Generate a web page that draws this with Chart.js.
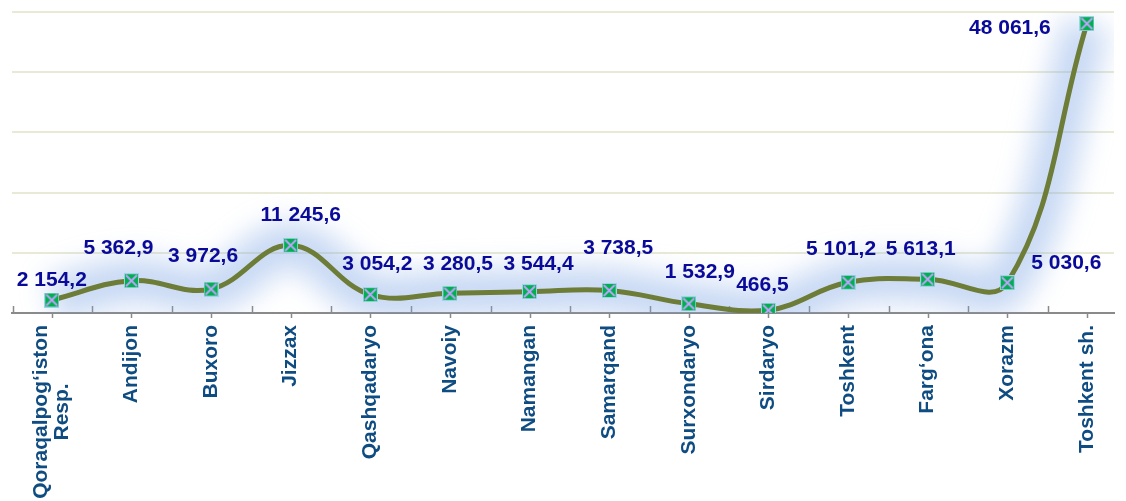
<!DOCTYPE html>
<html>
<head>
<meta charset="utf-8">
<title>Hududlar</title>
<script src="https://cdn.jsdelivr.net/npm/chart.js@4.4.1/dist/chart.umd.min.js"></script>
<style>
  html, body { margin: 0; padding: 0; background: #fff; overflow: hidden; }
  canvas { display: block; }
</style>
</head>
<body>
<canvas id="regionChart" width="1126" height="501"></canvas>
<script>
// regions and values
const regions = [
  ['Qoraqalpog‘iston', 'Resp.'], 'Andijon', 'Buxoro', 'Jizzax', 'Qashqadaryo', 'Navoiy',
  'Namangan', 'Samarqand', 'Surxondaryo', 'Sirdaryo', 'Toshkent', 'Farg‘ona', 'Xorazm', 'Toshkent sh.'
];
const values = [2154.2, 5362.9, 3972.6, 11245.6, 3054.2, 3280.5, 3544.4, 3738.5, 1532.9, 466.5, 5101.2, 5613.1, 5030.6, 48061.6];
const yMax = 50000;
const yStep = 10000;

// where each value label sits relative to its point [dx, dy]
const labelShift = [
  [0, -20], [-13, -33], [-8, -33], [10, -30], [7, -30], [8, -29], [9, -27],
  [9, -42], [11, -32], [-6, -25], [-7, -33], [-7, -30], [59, -20], [-77, 5]
];

const NAVY = '#0a0a9a';
const STEEL = '#0f4c81';
const FONT = '"Liberation Sans", Arial, sans-serif';

function fmtUz(n) {
  const [i, d] = n.toFixed(1).split('.');
  return i.replace(/\B(?=(\d{3})+(?!\d))/g, ' ') + ',' + d;
}

// green square with a lilac cross
function makeMarker() {
  const s = 15;
  const c = document.createElement('canvas');
  c.width = s; c.height = s;
  const g = c.getContext('2d');
  g.fillStyle = '#9fd4e8';
  g.fillRect(0, 0, s, s);
  g.fillStyle = '#00b050';
  g.fillRect(1, 1, s - 2, s - 2);
  g.strokeStyle = '#c3a2ff';
  g.lineWidth = 1.8;
  g.beginPath();
  g.moveTo(2, 2); g.lineTo(s - 2, s - 2);
  g.moveTo(s - 2, 2); g.lineTo(2, s - 2);
  g.stroke();
  return c;
}

const decor = {
  id: 'decor',
  beforeDatasetDraw(chart, args) {
    if (args.index === 1) {
      chart.ctx.save();
      chart.ctx.filter = 'blur(14px)';
    }
  },
  afterDatasetDraw(chart, args) {
    if (args.index === 1) chart.ctx.restore();
  },
  beforeDatasetsDraw(chart) {
    const { ctx, scales: { x }, chartArea } = chart;
    const y0 = chartArea.bottom;
    const w = x.getPixelForValue(1) - x.getPixelForValue(0);
    ctx.save();
    ctx.strokeStyle = '#8a8a8a';
    ctx.lineWidth = 1.5;
    ctx.beginPath();
    regions.forEach((r, i) => {
      const px = Math.round(x.getPixelForValue(i)) + 0.5;
      ctx.moveTo(px, y0); ctx.lineTo(px, y0 + 5);
      const bx = Math.round(px - w / 2) + 0.5;
      ctx.moveTo(bx, y0 - 7); ctx.lineTo(bx, y0);
    });
    ctx.stroke();

    // category names, rotated, reading upward
    ctx.fillStyle = STEEL;
    ctx.font = 'bold 21px ' + FONT;
    ctx.textAlign = 'center';
    ctx.textBaseline = 'middle';
    const lh = 21;
    regions.forEach((r, i) => {
      const lines = Array.isArray(r) ? r : [r];
      const wMax = Math.max(...lines.map(l => ctx.measureText(l).width));
      ctx.save();
      ctx.translate(x.getPixelForValue(i), y0 + 12);
      ctx.rotate(-Math.PI / 2);
      lines.forEach((l, k) => {
        ctx.fillText(l, -wMax / 2, (k - (lines.length - 1) / 2) * lh);
      });
      ctx.restore();
    });
    ctx.restore();
  },
  afterDatasetsDraw(chart) {
    const { ctx } = chart;
    const pts = chart.getDatasetMeta(0).data;
    ctx.save();
    ctx.fillStyle = NAVY;
    ctx.font = 'bold 21px ' + FONT;
    ctx.textAlign = 'center';
    ctx.textBaseline = 'middle';
    pts.forEach((p, i) => {
      const [dx, dy] = labelShift[i];
      ctx.fillText(fmtUz(values[i]), p.x + dx, p.y + dy);
    });
    ctx.restore();
  }
};

const marker = makeMarker();
// one point per region, placed at its index on a linear axis
const points = values.map((v, i) => ({ x: i, y: v }));

new Chart(document.getElementById('regionChart'), {
  type: 'line',
  data: {
    datasets: [
      {
        label: 'Hududlar',
        data: points,
        borderColor: '#6d7c36',
        borderWidth: 5,
        tension: 0.4,
        pointStyle: marker,
        pointRadius: 7,
        order: 0
      },
      {
        label: 'glow',
        data: points,
        borderColor: 'rgba(125,165,228,0.42)',
        borderWidth: 46,
        tension: 0.4,
        pointRadius: 0,
        order: 1
      }
    ]
  },
  options: {
    responsive: false,
    animation: false,
    events: [],
    layout: { padding: { top: 11, left: 0, right: 0, bottom: 0 } },
    plugins: {
      legend: { display: false },
      tooltip: { enabled: false }
    },
    scales: {
      x: {
        type: 'linear',
        min: -0.5,
        max: 13.34,
        grid: { display: false },
        border: { display: true, color: '#8a8a8a', width: 2 },
        ticks: { display: false },
        afterFit: s => { s.height = 188; }
      },
      y: {
        min: 0,
        max: yMax,
        grid: { color: '#e9ead6', lineWidth: 2, drawTicks: false },
        border: { display: false },
        ticks: { display: false, stepSize: yStep },
        afterFit: s => { s.width = 9; }
      }
    }
  },
  plugins: [decor]
});
</script>
</body>
</html>
